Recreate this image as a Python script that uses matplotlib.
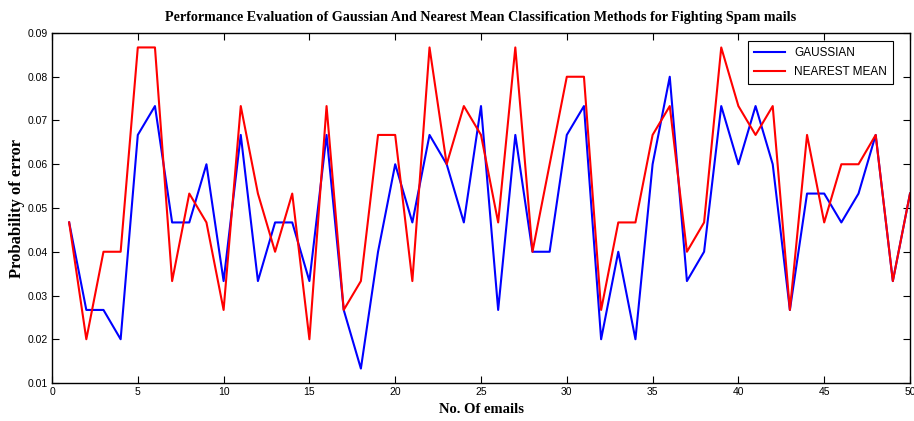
import matplotlib
matplotlib.use("Agg")
import matplotlib.pyplot as plt
from matplotlib import font_manager

emails = list(range(1, 51))

gaussian = [0.0467, 0.0267, 0.0267, 0.0200, 0.0667, 0.0733, 0.0467, 0.0467, 0.0600, 0.0333,
            0.0667, 0.0333, 0.0467, 0.0467, 0.0333, 0.0667, 0.0267, 0.0133, 0.0400, 0.0600,
            0.0467, 0.0667, 0.0600, 0.0467, 0.0733, 0.0267, 0.0667, 0.0400, 0.0400, 0.0667,
            0.0733, 0.0200, 0.0400, 0.0200, 0.0600, 0.0800, 0.0333, 0.0400, 0.0733, 0.0600,
            0.0733, 0.0600, 0.0267, 0.0533, 0.0533, 0.0467, 0.0533, 0.0667, 0.0333, 0.0533]

nearest_mean = [0.0467, 0.0200, 0.0400, 0.0400, 0.0867, 0.0867, 0.0333, 0.0533, 0.0467, 0.0267,
                0.0733, 0.0533, 0.0400, 0.0533, 0.0200, 0.0733, 0.0267, 0.0333, 0.0667, 0.0667,
                0.0333, 0.0867, 0.0600, 0.0733, 0.0667, 0.0467, 0.0867, 0.0400, 0.0600, 0.0800,
                0.0800, 0.0267, 0.0467, 0.0467, 0.0667, 0.0733, 0.0400, 0.0467, 0.0867, 0.0733,
                0.0667, 0.0733, 0.0267, 0.0667, 0.0467, 0.0600, 0.0600, 0.0667, 0.0333, 0.0533]

xticks = list(range(0, 51, 5))
yticks = [0.01, 0.02, 0.03, 0.04, 0.05, 0.06, 0.07, 0.08, 0.09]

# narrow sans if the system has it, plain Liberation Sans otherwise
names = {f.name for f in font_manager.fontManager.ttflist}
sans = 'Liberation Sans Narrow' if 'Liberation Sans Narrow' in names else 'Liberation Sans'
narrow = sans != 'Liberation Sans'

fig = plt.figure(figsize=(9.14, 4.21), dpi=100)
ax = fig.add_axes([52 / 914, 1 - 383 / 421, (910 - 52) / 914, (383 - 33) / 421])

ax.plot(emails, gaussian, color='#0000ff', lw=1.5, label='GAUSSIAN')
ax.plot(emails, nearest_mean, color='#ff0000', lw=1.5, label='NEAREST MEAN')

ax.set_xlim(0, 50)
ax.set_ylim(0.01, 0.09)
ax.set_xticks(xticks)
ax.set_yticks(yticks)
ax.set_yticklabels([f'{v:.2f}' for v in yticks])
ax.tick_params(direction='in', top=True, right=True, length=5, width=0.8,
               labelsize=8.5 if narrow else 7.5, pad=3)
for lbl in ax.get_xticklabels() + ax.get_yticklabels():
    lbl.set_fontfamily(sans)
for sp in ax.spines.values():
    sp.set_linewidth(1.0)

serif = {'family': 'Liberation Serif', 'weight': 'bold'}
ax.set_title('Performance Evaluation of Gaussian And Nearest Mean Classification Methods for Fighting Spam mails',
             fontdict=serif, fontsize=10.2, pad=8.5)
ax.set_xlabel('No. Of emails', fontdict=serif, fontsize=10.5, labelpad=4)
ax.set_ylabel('Probability of error', fontdict=serif, fontsize=12, labelpad=2)

leg = ax.legend(loc='upper right', bbox_to_anchor=(0.980, 0.977), borderaxespad=0,
                fancybox=False, edgecolor='black', framealpha=1,
                prop={'family': sans, 'size': 9.5 if narrow else 8.5},
                handlelength=2.6, labelspacing=0.6, borderpad=0.5)
leg.get_frame().set_linewidth(0.8)

fig.savefig('out.png', dpi=100)
